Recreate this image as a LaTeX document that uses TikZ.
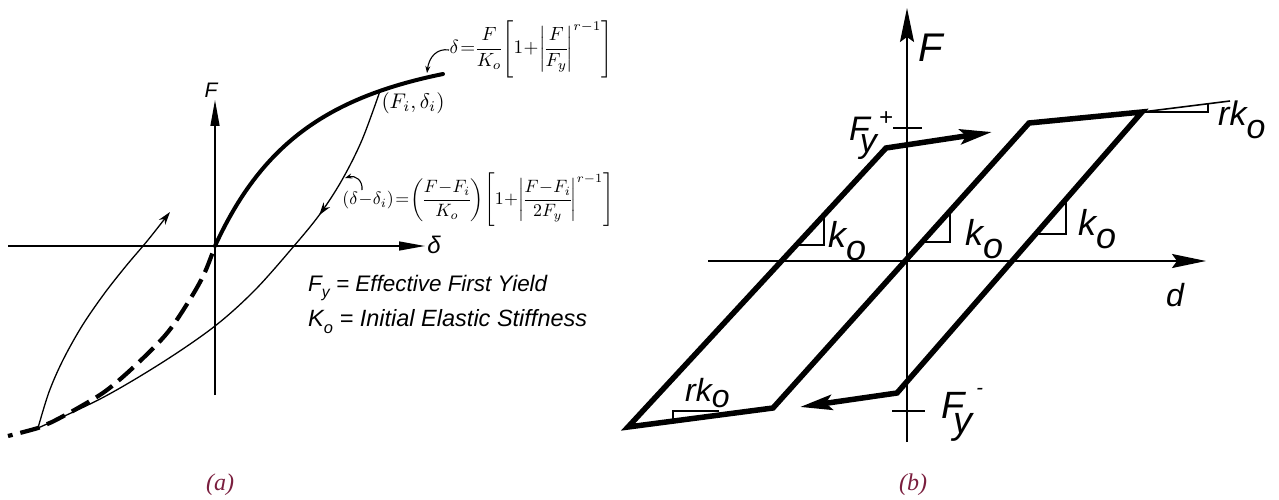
\documentclass[tikz,border=0pt]{standalone}
\usepackage{amsmath}
\usepackage{graphicx}
\usepackage{fontspec}
\setsansfont{Liberation Sans}
\newfontfamily\capfont{Liberation Serif}
\usetikzlibrary{arrows.meta,decorations.markings}
\definecolor{capcol}{RGB}{122,30,62}
\newcommand\fsz[1]{\fontsize{#1}{#1}\selectfont}
\newcommand\sbx[1]{\raisebox{-0.3em}{\scalebox{0.7}{#1}}}
\newcommand\tightmath{\thinmuskip=1mu\medmuskip=0.5mu\thickmuskip=1.5mu\nulldelimiterspace=0pt}
\begin{document}
\begin{tikzpicture}[x=1pt,y=-1pt,
  lbl/.style={inner sep=0pt},
  axa/.style={line width=1.4pt, -{Triangle[length=26pt,width=9pt]}},
  thinc/.style={line width=1.3pt},
  thickc/.style={line width=4pt, line cap=round},
  dashc/.style={line width=4.2pt, dash pattern=on 20pt off 8pt, dash phase=20pt},
  leader/.style={line width=1.1pt, -{Stealth[length=7pt,width=5pt]}},
  axb/.style={line width=1.8pt, -{Stealth[length=34pt,width=14pt,inset=5pt]}},
  loopb/.style={line width=5.5pt, line join=miter},
  thinb/.style={line width=1.6pt},
  capt/.style={inner sep=0pt, font=\capfont\itshape\fsz{24}, text=capcol}
]
\useasboundingbox (0,0) rectangle (1279,500);

% ---------------- panel (a) ----------------
\coordinate (O) at (215,246);
\coordinate (Fi) at (380,91);
\coordinate (E) at (443,74);
\coordinate (B) at (38,428);
\coordinate (Ax1) at (8,246);
\coordinate (Ax2) at (425,246);
\coordinate (Ay1) at (215,395);
\coordinate (Ay2) at (215,100);

\draw[axa] (Ax1) -- (Ax2);
\draw[axa] (Ay1) -- (Ay2);
\node[lbl, font=\sffamily\itshape\fsz{21}] (Fa) at (211,90) {F};
\node[lbl, font=\sffamily\itshape\fsz{24}] (da) at (434,245) {δ};

\draw[dashc] plot[smooth,tension=0.55] coordinates {(O) (205,272) (192,296) (168,332) (138,363) (107,390) (78,408) (52,422) (B) (8,436)};
\draw[thickc] (O) .. controls (261,146) and (325,98) .. (E);
\draw[thinc, postaction={decorate}, decoration={markings, mark=at position 0.28 with {\arrow{Stealth[length=13pt,width=8pt]}}}]
  plot[smooth, tension=0.55] coordinates {(Fi) (362,140) (342,180) (320,214) (294,246) (255,290) (215,326) (163,362) (102,398) (B)};
\draw[thinc, -{Stealth[length=13pt,width=8pt]}]
  plot[smooth, tension=0.55] coordinates {(B) (49,392) (63,360) (82,326) (104,294) (126,266) (148,240) (170,212)};

\coordinate (L1s) at (449,50);
\coordinate (L1e) at (427,73);
\draw[leader] (L1s) .. controls (437,48) and (429,57) .. (L1e);
\coordinate (L2s) at (362,190);
\coordinate (L2e) at (345,178);
\draw[leader] (L2s) .. controls (363,180) and (355,175) .. (L2e);

\node[lbl] (f1) at (531,49) {\resizebox{163pt}{!}{$\tightmath\displaystyle\delta=\frac{F}{K_o}\left[1+\left|\frac{F}{F_y}\right|^{r-1}\right]$}};
\node[lbl] (f2) at (478,200) {\resizebox{271pt}{!}{$\tightmath\displaystyle(\delta-\delta_i)=\left(\frac{F-F_i}{K_o}\right)\left[1+\left|\frac{F-F_i}{2F_y}\right|^{r-1}\right]$}};
\node[lbl] (fil) at (413,103) {\resizebox{63pt}{!}{$(F_i,\delta_i)$}};

\node[lbl, anchor=west, font=\sffamily\itshape\fsz{20}] (t1) at (308,288) {\resizebox{239pt}{!}{F\sbx{y} = Effective First Yield}};
\node[lbl, anchor=west, font=\sffamily\itshape\fsz{20}] (t2) at (308,322) {\resizebox{279pt}{!}{K\sbx{o} = Initial Elastic Stiffness}};

\node[capt] (capa) at (220,485) {(a)};

% ---------------- panel (b) ----------------
\coordinate (A) at (628,427);
\coordinate (P) at (886,148);
\coordinate (Q) at (992,132);
\coordinate (C) at (773,408);
\coordinate (D) at (1029,123);
\coordinate (G) at (1142,112);
\coordinate (T) at (1230,101);
\coordinate (R) at (897,393);
\coordinate (S) at (800,407);
\coordinate (Bx1) at (708,261);
\coordinate (Bx2) at (1206,261);
\coordinate (By1) at (907,442);
\coordinate (By2) at (907,8);

\draw[axb] (Bx1) -- (Bx2);
\draw[axb] (By1) -- (By2);

% ticks
\coordinate (tp1) at (893,128); \coordinate (tp2) at (922,128);
\coordinate (tm1) at (892,411); \coordinate (tm2) at (925,411);
\draw[thinb] (tp1) -- (tp2);
\draw[thinb] (tm1) -- (tm2);

% slope triangles
\draw[thinb] (796,245) -- (824,245) -- (824,215);
\draw[thinb] (922,242) -- (950,242) -- (950,211);
\draw[thinb] (1036,234) -- (1066,234) -- (1066,199);
\draw[thinb] (673,421) -- (673,411) -- (719,411);
\draw[thinb] (G) -- (T);
\draw[thinb] (G) -- (1208,112) -- (1208,103.7);

% hysteresis loop
\draw[loopb, {Stealth[length=32pt,width=15pt,inset=6pt]}-{Stealth[length=32pt,width=15pt,inset=6pt]}]
  (S) -- (R) -- (G) -- (D) -- (C) -- (A) -- (P) -- (Q);

% labels
\node[lbl, font=\sffamily\itshape\fsz{40}] (Fb) at (931,48) {F};
\node[lbl, font=\sffamily\itshape\fsz{32}] (db) at (1175,295) {d};
\node[lbl, anchor=base west, font=\sffamily\itshape\fsz{36}] (k1) at (828,247) {k\raisebox{-13pt}{o}};
\node[lbl, anchor=base west, font=\sffamily\itshape\fsz{36}] (k2) at (965,245) {k\raisebox{-13pt}{o}};
\node[lbl, anchor=base west, font=\sffamily\itshape\fsz{36}] (k3) at (1078,235) {k\raisebox{-13pt}{o}};
\node[lbl, anchor=base west, font=\sffamily\itshape\fsz{34}] (rk1) at (1218,126) {rk\raisebox{-13pt}{o}};
\node[lbl, anchor=base west, font=\sffamily\itshape\fsz{32}] (rk2) at (685,401) {rk\raisebox{-6pt}{o}};
\node[lbl, anchor=base west, font=\sffamily\itshape\fsz{34}] (fyp) at (849,141) {F\kern-10pt\raisebox{-11pt}{y}\kern2pt\raisebox{16pt}{\fsz{24}+}};
\node[lbl, anchor=base west, font=\sffamily\itshape\fsz{38}] (fym) at (941,418) {F\kern-11pt\raisebox{-15pt}{y}\kern4pt\raisebox{24pt}{\fsz{20}-}};

\node[capt] (capb) at (913,485) {(b)};
\end{tikzpicture}
\end{document}
